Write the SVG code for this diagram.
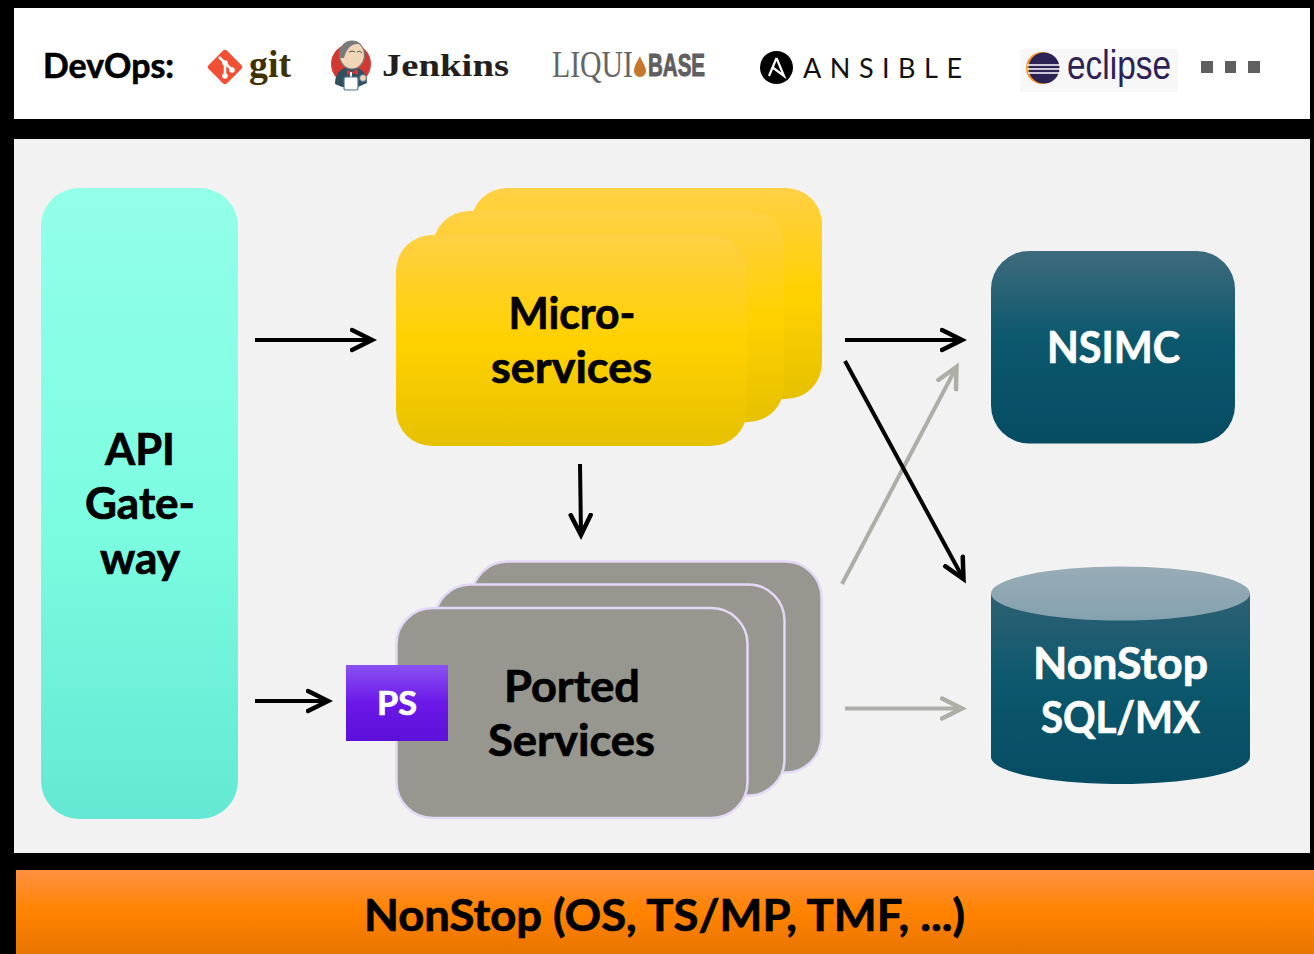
<svg xmlns="http://www.w3.org/2000/svg" width="1314" height="954" viewBox="0 0 1314 954">
<style>
.t{font-family:"Lato","Noto Sans",sans-serif;font-weight:700;text-anchor:middle;stroke-width:.7px;paint-order:stroke}
.k{fill:#000;stroke:#000}.w{fill:#fff;stroke:#fff}
.s{font-size:43px}
.p{fill:#979790;stroke:#e3d8f5;stroke-width:2.5}
.y{fill:url(#gy)}
.c{fill:none;stroke-width:4}
.b{stroke:#000;marker-end:url(#hb)}
.g{stroke:#adaea6;marker-end:url(#hg)}
</style>
<defs>
<linearGradient id="gt" x1="0" y1="0" x2="0" y2="1"><stop offset="0" stop-color="#93ffe9"/><stop offset=".55" stop-color="#7bfce0"/><stop offset="1" stop-color="#64e8d3"/></linearGradient>
<linearGradient id="gy" x1="0" y1="0" x2="0" y2="1"><stop offset="0" stop-color="#ffd045"/><stop offset=".5" stop-color="#ffd100"/><stop offset="1" stop-color="#e6c100"/></linearGradient>
<linearGradient id="gn" x1="0" y1="0" x2="0" y2="1"><stop offset="0" stop-color="#3f6a7d"/><stop offset=".45" stop-color="#0c586d"/><stop offset="1" stop-color="#064c63"/></linearGradient>
<linearGradient id="gc" x1="0" y1="0" x2="0" y2="1"><stop offset="0" stop-color="#2f6074"/><stop offset=".45" stop-color="#0c586d"/><stop offset="1" stop-color="#064c63"/></linearGradient>
<linearGradient id="gl" x1="0" y1="0" x2="0" y2="1"><stop offset="0" stop-color="#98acb7"/><stop offset="1" stop-color="#84a2ae"/></linearGradient>
<linearGradient id="gp" x1="0" y1="0" x2="0" y2="1"><stop offset="0" stop-color="#8a52f2"/><stop offset=".5" stop-color="#6b18e8"/><stop offset="1" stop-color="#5c10d8"/></linearGradient>
<linearGradient id="go" x1="0" y1="0" x2="0" y2="1"><stop offset="0" stop-color="#ff9142"/><stop offset=".5" stop-color="#ff8300"/><stop offset="1" stop-color="#e87400"/></linearGradient>
<marker id="hb" markerUnits="userSpaceOnUse" markerWidth="30" markerHeight="30" refX="22" refY="15" orient="auto"><path d="M2 5L22 15L2 25" fill="none" stroke="#000" stroke-width="4.500" stroke-linecap="round"/></marker>
<marker id="hg" markerUnits="userSpaceOnUse" markerWidth="30" markerHeight="30" refX="22" refY="15" orient="auto"><path d="M2 5L22 15L2 25" fill="none" stroke="#adaea6" stroke-width="4.500" stroke-linecap="round"/></marker>
</defs>
<rect width="1314" height="954" fill="#000"/>
<rect x="14" y="8" width="1296" height="111" fill="#fff"/>
<rect x="14" y="139" width="1296" height="714" fill="#f2f2f2"/>

<g id="devops">
<text x="43" y="78" font-family="Lato,sans-serif" font-weight="700" font-size="34" stroke="#000" stroke-width=".6" textLength="131" lengthAdjust="spacingAndGlyphs">DevOps:</text>
</g>
<g id="logo-git">
<rect x="212" y="54" width="26" height="26" rx="3" fill="#f05033" transform="rotate(45 225 67)"/>
<path d="M219 57L232 70M225 63V76" stroke="#fff" stroke-width="2.500" fill="none"/>
<circle cx="225" cy="63" r="2.800" fill="#fff"/><circle cx="225" cy="76" r="2.800" fill="#fff"/><circle cx="232" cy="70" r="2.800" fill="#fff"/>
<text x="249" y="77" font-family="Liberation Serif,serif" font-weight="700" font-size="37" fill="#413000" textLength="42" lengthAdjust="spacingAndGlyphs">git</text>
</g>
<g id="logo-jenkins">
<circle cx="351" cy="64" r="20" fill="#d33833"/>
<path d="M335 84C335 73 341 67 351 67C361 67 367 73 367 83L358 87H342Z" fill="#335061"/>
<ellipse cx="352" cy="55" rx="12.500" ry="14" fill="#f0d6b7" stroke="#7a7a7a" stroke-width="1.200"/>
<path d="M340 58C338 47 344 41 352 41C356 41 359 42 361 44C353 43 347 47 344 58Z" fill="#7a7a7a"/>
<path d="M349 52Q352 50 355 52M357 52Q360 50 362 53" stroke="#555" stroke-width="1" fill="none"/>
<path d="M347 70L352 72L358 69L358 75L352 73L347 76Z" fill="#d33833"/>
<path d="M351 72V80" stroke="#fff" stroke-width="2"/>
<rect x="344" y="77" width="14" height="13" rx="1.500" fill="#fff" stroke="#49728b" stroke-width="1.200"/>
<circle cx="363" cy="78" r="3.500" fill="#f0d6b7" stroke="#49728b"/>
<text x="382" y="76" font-family="Liberation Serif,serif" font-weight="700" font-size="31" fill="#231f20" textLength="127" lengthAdjust="spacingAndGlyphs">Jenkins</text>
</g>
<g id="logo-liquibase">
<text x="552" y="77" font-family="Liberation Serif,serif" font-size="38" fill="#656565" textLength="81" lengthAdjust="spacingAndGlyphs">LIQUI</text>
<path d="M640 56C637 62 634 66 634 71A6 6 0 0 0 646 71C646 66 642 62 640 56Z" fill="#c6762a"/>
<text x="648" y="76" font-family="Liberation Sans,sans-serif" font-weight="700" font-size="32" fill="#5f5f5f" stroke="#5f5f5f" stroke-width="1" textLength="57" lengthAdjust="spacingAndGlyphs">BASE</text>
</g>
<g id="logo-ansible">
<circle cx="776.500" cy="67.500" r="16.500" fill="#000"/>
<path d="M776.500 58L769 76M776.500 58L784 76L772 67" fill="none" stroke="#fff" stroke-width="2.200"/>
<text x="803" y="78" font-family="Lato,sans-serif" font-weight="400" font-size="27" fill="#111" textLength="159">ANSIBLE</text>
</g>
<g id="logo-eclipse">
<rect x="1020" y="49" width="158" height="43" fill="#f7f7f7"/>
<circle cx="1042" cy="68" r="16" fill="#f7941e"/>
<circle cx="1044" cy="68" r="15.500" fill="#2c2255"/>
<path d="M1027 65H1060M1027 69H1060M1028 73H1059" stroke="#fff" stroke-width="1.600"/>
<text x="1067" y="79" font-family="Liberation Sans,sans-serif" font-size="40" fill="#2c2255" textLength="104" lengthAdjust="spacingAndGlyphs">eclipse</text>
</g>
<g id="more" fill="#5f5f5f">
<rect x="1201" y="61" width="12" height="12"/><rect x="1225" y="61" width="11" height="12"/><rect x="1248" y="61" width="12" height="12"/>
</g>

<g id="connectors">
<path class="c b" d="M255 340H372"/>
<path class="c b" d="M845 340H962"/>
<path class="c g" d="M842 584L956.500 367"/>
<path class="c b" d="M845 361L963.500 579"/>
<path class="c g" d="M845 708.500H962"/>
<path class="c b" d="M580 464L581 535"/>
<path class="c b" d="M255 701H328"/>
</g>

<g id="api-gateway">
<rect x="41" y="188" width="197" height="631" rx="38" fill="url(#gt)"/>
<text class="t k s" x="140" y="465" textLength="70" lengthAdjust="spacingAndGlyphs">API</text>
<text class="t k s" x="140" y="519" textLength="110" lengthAdjust="spacingAndGlyphs">Gate-</text>
<text class="t k s" x="140" y="574" textLength="80" lengthAdjust="spacingAndGlyphs">way</text>
</g>
<g id="microservices">
<rect class="y" x="471" y="188" width="351" height="211" rx="36"/>
<rect class="y" x="433" y="211" width="351" height="211" rx="36"/>
<rect class="y" x="396" y="235" width="351" height="211" rx="36"/>
<text class="t k s" x="572" y="329" textLength="127" lengthAdjust="spacingAndGlyphs">Micro-</text>
<text class="t k s" x="571.500" y="383" textLength="161" lengthAdjust="spacingAndGlyphs">services</text>
</g>
<g id="ported-services">
<rect class="p" x="471.500" y="561.500" width="350" height="211" rx="36"/>
<rect class="p" x="434.500" y="584.500" width="350" height="211" rx="36"/>
<rect class="p" x="396.500" y="608" width="351" height="210" rx="36"/>
<text class="t k s" x="572" y="702" textLength="136" lengthAdjust="spacingAndGlyphs">Ported</text>
<text class="t k s" x="571.500" y="756" textLength="167" lengthAdjust="spacingAndGlyphs">Services</text>
</g>
<g id="ps">
<rect x="346" y="665" width="102" height="76" fill="url(#gp)"/>
<text class="t w" x="397" y="715" font-size="33" textLength="40" lengthAdjust="spacingAndGlyphs">PS</text>
</g>
<g id="nsimc">
<rect x="991" y="251" width="244" height="192.500" rx="38" fill="url(#gn)"/>
<text class="t w s" x="1113.500" y="363" textLength="133" lengthAdjust="spacingAndGlyphs">NSIMC</text>
</g>
<g id="nonstop-sql">
<path d="M991 593V757C991 772 1049 784 1120.500 784C1192 784 1250 772 1250 757V593Z" fill="url(#gc)"/>
<ellipse cx="1120.500" cy="593.500" rx="129.500" ry="27" fill="url(#gl)"/>
<text class="t w s" x="1120.500" y="679" textLength="175" lengthAdjust="spacingAndGlyphs">NonStop</text>
<text class="t w s" x="1120.500" y="733" textLength="159" lengthAdjust="spacingAndGlyphs">SQL/MX</text>
</g>
<g id="nonstop-os">
<rect x="16" y="870" width="1298" height="84" fill="url(#go)"/>
<text class="t k s" x="664.500" y="931" textLength="601" lengthAdjust="spacingAndGlyphs">NonStop (OS, TS/MP, TMF, ...)</text>
</g>
</svg>
